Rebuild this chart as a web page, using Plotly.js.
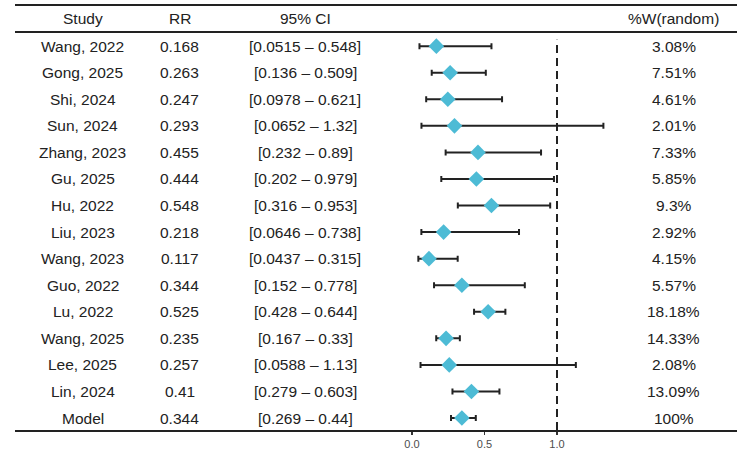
<!DOCTYPE html>
<html>
<head>
<meta charset="utf-8">
<script src="https://cdn.plot.ly/plotly-3.0.1.min.js"></script>
<style>html,body{margin:0;padding:0;background:#fff;}#chart{width:750px;height:450px;}</style>
</head>
<body>
<div id="chart"></div>
<script>
const studies = ["Wang, 2022","Gong, 2025","Shi, 2024","Sun, 2024","Zhang, 2023","Gu, 2025","Hu, 2022","Liu, 2023","Wang, 2023","Guo, 2022","Lu, 2022","Wang, 2025","Lee, 2025","Lin, 2024","Model"];
const rr = [0.168,0.263,0.247,0.293,0.455,0.444,0.548,0.218,0.117,0.344,0.525,0.235,0.257,0.41,0.344];
const lower = [0.0515,0.136,0.0978,0.0652,0.232,0.202,0.316,0.0646,0.0437,0.152,0.428,0.167,0.0588,0.279,0.269];
const upper = [0.548,0.509,0.621,1.32,0.89,0.979,0.953,0.738,0.315,0.778,0.644,0.33,1.13,0.603,0.44];
const ciLabels = ["[0.0515 – 0.548]","[0.136 – 0.509]","[0.0978 – 0.621]","[0.0652 – 1.32]","[0.232 – 0.89]","[0.202 – 0.979]","[0.316 – 0.953]","[0.0646 – 0.738]","[0.0437 – 0.315]","[0.152 – 0.778]","[0.428 – 0.644]","[0.167 – 0.33]","[0.0588 – 1.13]","[0.279 – 0.603]","[0.269 – 0.44]"];
const weights = ["3.08%","7.51%","4.61%","2.01%","7.33%","5.85%","9.3%","2.92%","4.15%","5.57%","18.18%","14.33%","2.08%","13.09%","100%"];
const headers = ["Study","RR","95% CI","%W(random)"];
const xTicks = [0, 0.5, 1];
const xTickText = ["0.0","0.5","1.0"];
const nullValue = 1;

const txtFont = {family: "Liberation Sans, Arial, sans-serif", size: 15.5, color: "#222"};
const colPaper = [0.0935, 0.2285, 0.4017, 0.9127];

const trace = {
  type: "scatter", mode: "markers",
  x: rr, y: studies,
  marker: {symbol: "diamond", size: 12, color: "#4DBBD5"},
  error_x: {
    type: "data", symmetric: false,
    array: upper.map((u,i)=>u-rr[i]),
    arrayminus: lower.map((l,i)=>rr[i]-l),
    color: "#222", thickness: 2, width: 3
  },
  hoverinfo: "skip", showlegend: false, cliponaxis: false
};

const annotations = [];
headers.forEach((h,j)=>{
  annotations.push({xref:"paper", yref:"paper", x: colPaper[j], y: 0.969, text: h, showarrow:false, font: txtFont, xanchor:"center", yanchor:"middle"});
});
studies.forEach((s,i)=>{
  [s, String(rr[i]), ciLabels[i], weights[i]].forEach((t,j)=>{
    annotations.push({xref:"paper", yref:"y", x: colPaper[j], y: s, text: t, showarrow:false, font: txtFont, xanchor:"center", yanchor:"middle"});
  });
});

const layout = {
  width: 750, height: 450,
  margin: {l: 15, r: 13, t: 5, b: 20},
  paper_bgcolor: "#fff", plot_bgcolor: "#fff",
  xaxis: {
    range: [-2.738, 2.2414], showgrid: false, zeroline: false,
    tickvals: xTicks, ticktext: xTickText,
    ticks: "outside", ticklen: 3, tickwidth: 1.5, tickcolor: "#333",
    tickfont: {family: "Liberation Sans, Arial, sans-serif", size: 11, color: "#4d4d4d"},
    showline: true, linecolor: "#222", linewidth: 2, mirror: false
  },
  yaxis: {
    type: "category", categoryorder: "array", categoryarray: studies,
    range: [14.45, -1.55], showgrid: false, zeroline: false,
    showticklabels: false, ticks: "", showline: false
  },
  shapes: [
    {type:"line", xref:"paper", yref:"paper", x0:0, x1:1, y0:1, y1:1, line:{color:"#222", width:2}},
    {type:"line", xref:"paper", yref:"paper", x0:0, x1:1, y0:0.9365, y1:0.9365, line:{color:"#222", width:2}},
    {type:"line", xref:"x", yref:"paper", x0:nullValue, x1:nullValue, y0:0, y1:0.918, line:{color:"#222", width:2, dash:"8px,5px"}, layer:"below"}
  ],
  annotations: annotations
};

Plotly.newPlot("chart", [trace], layout, {displayModeBar: false, staticPlot: true});
</script>
</body>
</html>
